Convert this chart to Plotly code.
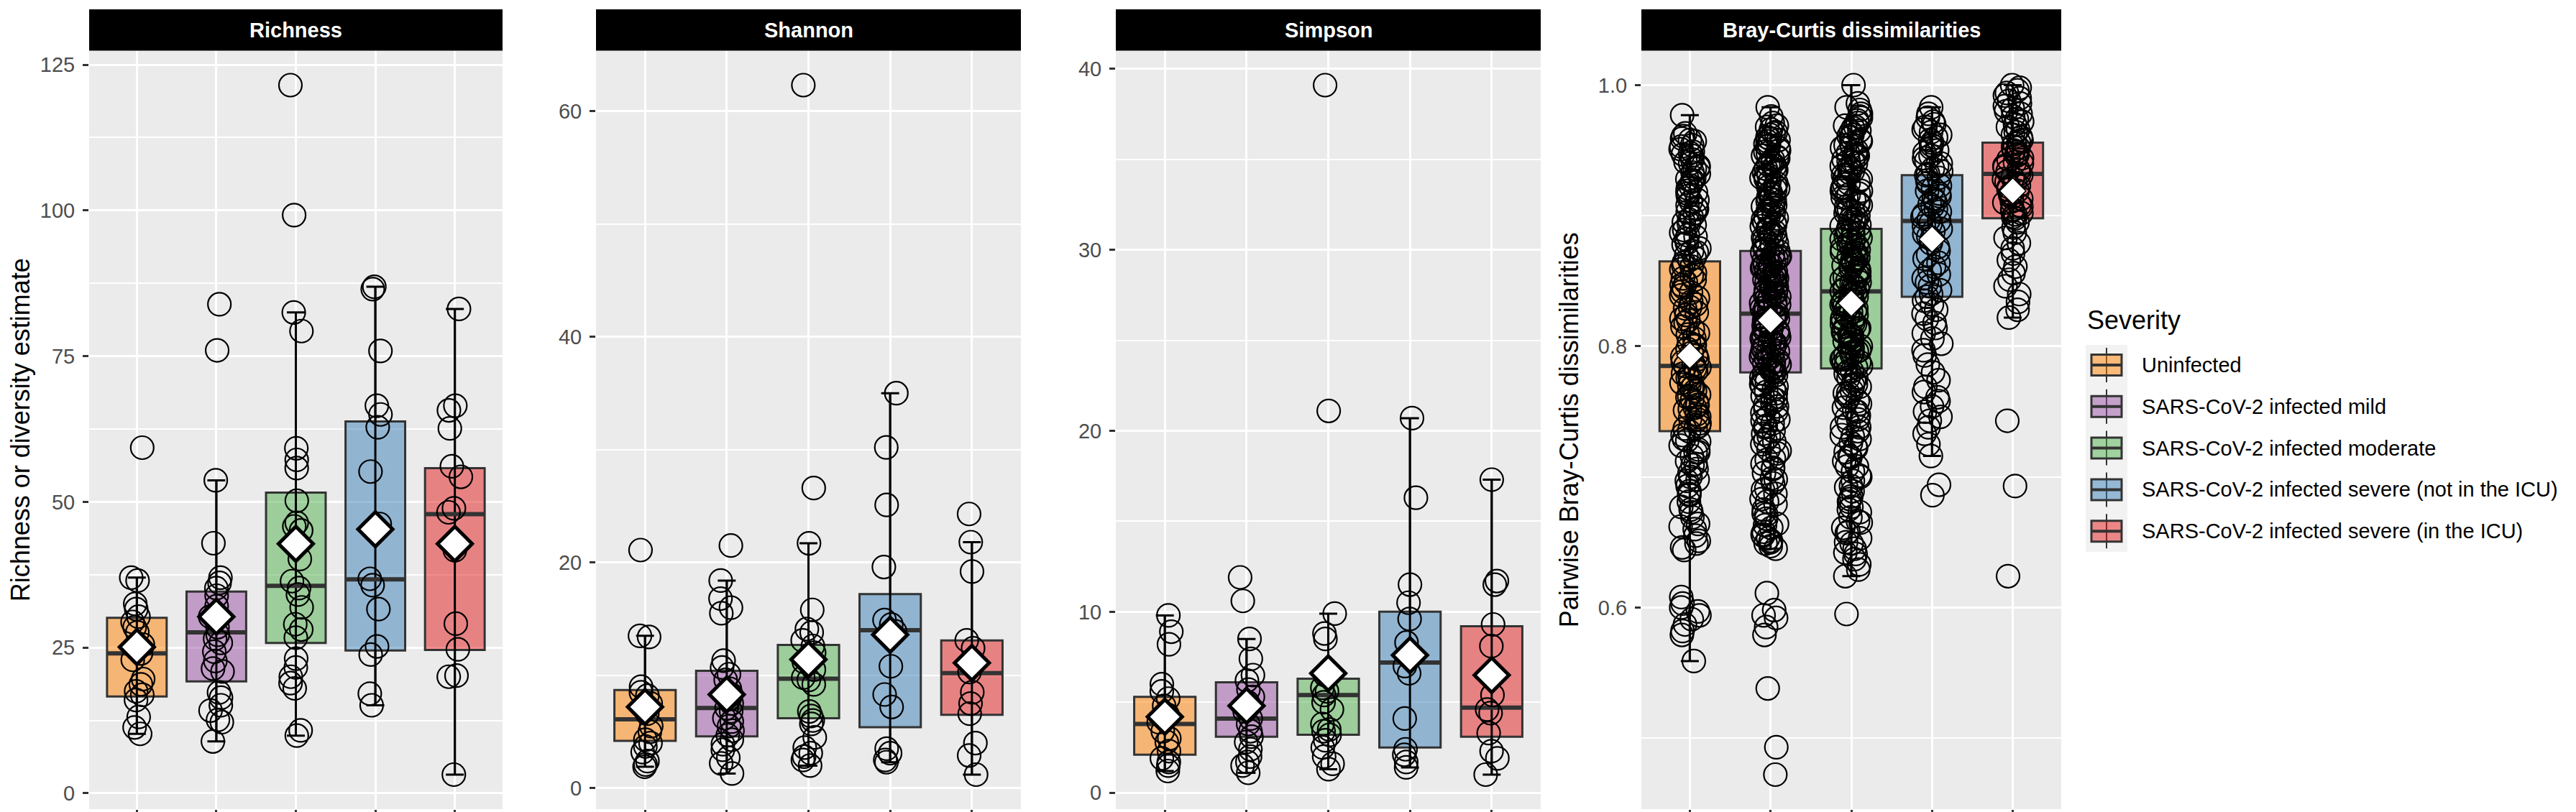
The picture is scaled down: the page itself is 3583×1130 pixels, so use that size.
import math
import plotly.graph_objects as go

W, H = 3583, 1130

severity = ["Uninfected", "SARS-CoV-2 infected mild", "SARS-CoV-2 infected moderate",
            "SARS-CoV-2 infected severe (not in the ICU)", "SARS-CoV-2 infected severe (in the ICU)"]
set1 = ["#FF7F00", "#984EA3", "#4DAF4A", "#377EB8", "#E41A1C"]

# ---------------- Richness ----------------
richness_points = [
    [59.3, 37.0, 36.5, 32.5, 31.6, 30.3, 29.4, 28.5, 27.6, 25.5, 24.0, 22.9, 19.6, 18.7, 17.5, 16.9, 16.0, 13.1, 11.3, 10.2],
    [83.9, 76.0, 53.7, 42.9, 37.0, 36.1, 35.2, 33.9, 32.1, 30.3, 28.5, 27.2, 26.5, 25.8, 24.3, 22.7, 21.4, 20.9, 17.3, 16.4, 15.1, 14.2, 12.6, 12.2, 8.9],
    [121.5, 99.2, 82.5, 79.3, 59.2, 57.2, 55.8, 50.2, 46.4, 45.8, 45.1, 40.2, 36.4, 35.2, 34.1, 31.9, 29.0, 28.1, 26.7, 23.1, 21.6, 20.0, 18.9, 18.0, 10.8, 9.9],
    [86.9, 86.5, 75.9, 66.5, 65.0, 62.8, 55.2, 46.2, 36.8, 35.7, 31.6, 25.2, 23.8, 17.1, 15.1],
    [83.1, 66.5, 65.7, 62.6, 56.1, 54.3, 48.9, 48.2, 41.7, 29.1, 24.7, 20.2, 20.0, 3.2],
]
richness_q1 = [16.6, 19.2, 25.8, 24.5, 24.6]
richness_median = [24.0, 27.6, 35.6, 36.7, 47.9]
richness_q3 = [30.1, 34.6, 51.6, 63.8, 55.8]
richness_lower = [10.2, 8.9, 9.9, 15.1, 3.2]
richness_upper = [37.0, 53.7, 82.5, 86.9, 83.1]
richness_mean = [25.1, 30.3, 42.8, 45.3, 42.8]

# ---------------- Shannon ----------------
shannon_points = [
    [21.1, 13.5, 13.4, 9.0, 8.5, 8.2, 7.5, 6.6, 5.5, 5.0, 4.3, 4.0, 3.7, 3.2, 2.4, 2.1, 1.9],
    [21.5, 18.4, 16.8, 16.0, 15.5, 11.3, 10.7, 10.1, 9.6, 8.8, 8.3, 7.9, 7.5, 7.1, 6.8, 6.2, 5.9, 5.5, 5.1, 4.7, 4.3, 3.9, 3.4, 2.7, 2.2, 1.3],
    [62.3, 26.6, 21.7, 15.8, 14.1, 13.8, 13.1, 12.6, 12.0, 11.2, 10.5, 9.8, 9.6, 9.2, 6.8, 6.4, 6.0, 5.7, 4.5, 3.6, 3.1, 2.8, 2.5, 2.0],
    [35.0, 30.2, 25.1, 19.6, 14.9, 14.5, 13.9, 10.8, 8.3, 7.2, 3.5, 3.1, 2.5, 2.3],
    [24.3, 21.8, 19.2, 13.1, 12.4, 10.3, 8.5, 7.5, 6.6, 4.0, 2.9, 1.2],
]
shannon_q1 = [4.2, 4.6, 6.2, 5.4, 6.5]
shannon_median = [6.1, 7.1, 9.7, 14.0, 10.2]
shannon_q3 = [8.7, 10.4, 12.7, 17.2, 13.1]
shannon_lower = [1.9, 1.3, 2.0, 2.3, 1.2]
shannon_upper = [13.5, 18.4, 21.7, 35.0, 21.8]
shannon_mean = [7.2, 8.3, 11.4, 13.6, 11.1]

# ---------------- Simpson ----------------
simpson_points = [
    [9.8, 8.9, 8.2, 6.0, 5.6, 5.2, 4.8, 4.3, 3.9, 3.4, 3.0, 2.8, 2.3, 1.9, 1.7, 1.5, 1.2],
    [11.9, 10.6, 8.5, 7.4, 6.5, 6.2, 5.7, 5.3, 5.0, 4.9, 4.5, 4.1, 3.8, 3.4, 3.1, 2.8, 2.4, 2.0, 1.7, 1.5, 1.1],
    [39.1, 21.1, 9.9, 8.8, 8.5, 6.5, 5.8, 5.6, 5.4, 5.0, 4.6, 3.8, 3.5, 3.4, 3.2, 2.9, 2.5, 2.0, 1.6, 1.3],
    [20.7, 16.3, 11.5, 10.5, 9.6, 8.3, 7.0, 6.6, 4.1, 2.4, 2.1, 1.7, 1.4],
    [17.3, 11.7, 11.5, 9.3, 8.1, 5.4, 4.6, 4.4, 3.3, 2.3, 1.9, 1.0],
]
simpson_q1 = [2.1, 3.1, 3.2, 2.5, 3.1]
simpson_median = [3.8, 4.1, 5.4, 7.2, 4.7]
simpson_q3 = [5.3, 6.1, 6.3, 10.0, 9.2]
simpson_lower = [1.2, 1.1, 1.3, 1.4, 1.0]
simpson_upper = [9.8, 8.5, 9.9, 20.7, 17.3]
simpson_mean = [4.2, 4.8, 6.6, 7.6, 6.5]

# ---------------- Bray-Curtis (pairwise values, estimated from the dense clouds) ----------------
bray_uninfected = [
    0.977, 0.963, 0.961, 0.958, 0.957, 0.954, 0.953, 0.951, 0.948, 0.947, 0.946, 0.943, 0.941, 0.940, 0.937,
    0.936, 0.933, 0.932, 0.929, 0.927, 0.926, 0.923, 0.921, 0.919, 0.918, 0.915, 0.912, 0.911, 0.908, 0.906,
    0.903, 0.902, 0.899, 0.897, 0.894, 0.893, 0.889, 0.887, 0.885, 0.882, 0.879, 0.878, 0.875, 0.872, 0.870,
    0.868, 0.866, 0.864, 0.861, 0.859, 0.856, 0.854, 0.852, 0.849, 0.847, 0.845, 0.842, 0.839, 0.837, 0.834,
    0.832, 0.829, 0.826, 0.824, 0.821, 0.818, 0.815, 0.813, 0.809, 0.806, 0.803, 0.801, 0.798, 0.795, 0.793,
    0.790, 0.788, 0.786, 0.785, 0.783, 0.781, 0.779, 0.776, 0.775, 0.772, 0.770, 0.768, 0.766, 0.763, 0.762,
    0.759, 0.757, 0.755, 0.752, 0.751, 0.748, 0.746, 0.744, 0.741, 0.739, 0.737, 0.735, 0.732, 0.729, 0.727,
    0.724, 0.721, 0.719, 0.716, 0.712, 0.710, 0.706, 0.703, 0.700, 0.697, 0.693, 0.689, 0.686, 0.681, 0.677,
    0.673, 0.669, 0.664, 0.660, 0.655, 0.651, 0.649, 0.646, 0.644, 0.608, 0.603, 0.600, 0.597, 0.594, 0.591,
    0.587, 0.582, 0.579, 0.559,
    0.959, 0.949, 0.938, 0.928, 0.917, 0.905, 0.895, 0.884, 0.873, 0.862, 0.851, 0.841, 0.830, 0.820, 0.810,
    0.800, 0.792, 0.784, 0.777, 0.769, 0.761, 0.753, 0.745, 0.737, 0.728, 0.719, 0.709, 0.698, 0.687, 0.675,
    0.662]
bray_mild = [
    0.983, 0.976, 0.971, 0.968, 0.966, 0.963, 0.962, 0.960, 0.958, 0.957, 0.955, 0.953, 0.952, 0.950, 0.949,
    0.946, 0.945, 0.944, 0.941, 0.940, 0.938, 0.936, 0.935, 0.933, 0.931, 0.930, 0.928, 0.926, 0.925, 0.922,
    0.921, 0.920, 0.917, 0.916, 0.914, 0.912, 0.911, 0.909, 0.907, 0.906, 0.904, 0.902, 0.901, 0.899, 0.897,
    0.895, 0.894, 0.892, 0.890, 0.889, 0.887, 0.885, 0.884, 0.882, 0.880, 0.879, 0.877, 0.875, 0.874, 0.872,
    0.871, 0.869, 0.868, 0.867, 0.865, 0.864, 0.863, 0.861, 0.860, 0.858, 0.857, 0.856, 0.854, 0.853, 0.852,
    0.850, 0.849, 0.848, 0.846, 0.845, 0.844, 0.842, 0.841, 0.840, 0.838, 0.837, 0.836, 0.834, 0.833, 0.832,
    0.830, 0.829, 0.828, 0.826, 0.825, 0.824, 0.822, 0.821, 0.820, 0.818, 0.817, 0.816, 0.814, 0.813, 0.812,
    0.810, 0.809, 0.808, 0.806, 0.805, 0.804, 0.802, 0.801, 0.800, 0.798, 0.797, 0.796, 0.794, 0.793, 0.792,
    0.790, 0.789, 0.788, 0.786, 0.785, 0.784, 0.782, 0.781, 0.780, 0.778, 0.776, 0.773, 0.771, 0.769, 0.767,
    0.764, 0.762, 0.759, 0.757, 0.754, 0.752, 0.749, 0.746, 0.743, 0.741, 0.738, 0.735, 0.731, 0.728, 0.725,
    0.721, 0.718, 0.714, 0.710, 0.707, 0.703, 0.699, 0.695, 0.691, 0.687, 0.683, 0.679, 0.675, 0.671, 0.668,
    0.664, 0.661, 0.658, 0.655, 0.653, 0.651, 0.649, 0.647, 0.645, 0.611, 0.598, 0.594, 0.592, 0.585, 0.579,
    0.538, 0.493, 0.472,
    0.969, 0.964, 0.959, 0.954, 0.948, 0.943, 0.939, 0.934, 0.929, 0.923, 0.918, 0.913, 0.908, 0.903, 0.898,
    0.893, 0.888, 0.883, 0.878, 0.873, 0.870, 0.866, 0.862, 0.859, 0.855, 0.851, 0.847, 0.843, 0.839, 0.835,
    0.831, 0.827, 0.823, 0.819, 0.815, 0.811, 0.807, 0.803, 0.799, 0.795, 0.791, 0.787, 0.783, 0.779, 0.775,
    0.770, 0.765, 0.760, 0.755, 0.750, 0.744, 0.739, 0.733, 0.727, 0.720, 0.713, 0.706, 0.698, 0.690, 0.681,
    0.672, 0.663, 0.656, 0.650]
bray_moderate = [
    1.000, 0.986, 0.981, 0.978, 0.975, 0.973, 0.971, 0.969, 0.967, 0.965, 0.964, 0.962, 0.960, 0.958, 0.957,
    0.955, 0.953, 0.952, 0.950, 0.948, 0.946, 0.945, 0.943, 0.941, 0.940, 0.938, 0.936, 0.934, 0.933, 0.931,
    0.929, 0.928, 0.926, 0.924, 0.922, 0.921, 0.919, 0.917, 0.916, 0.914, 0.912, 0.910, 0.909, 0.907, 0.905,
    0.904, 0.902, 0.900, 0.898, 0.897, 0.895, 0.893, 0.892, 0.890, 0.889, 0.887, 0.886, 0.884, 0.883, 0.881,
    0.880, 0.878, 0.877, 0.875, 0.874, 0.872, 0.871, 0.869, 0.868, 0.866, 0.865, 0.863, 0.862, 0.860, 0.859,
    0.857, 0.856, 0.854, 0.853, 0.851, 0.850, 0.848, 0.847, 0.845, 0.844, 0.842, 0.841, 0.839, 0.838, 0.836,
    0.835, 0.833, 0.832, 0.830, 0.829, 0.827, 0.826, 0.824, 0.823, 0.821, 0.820, 0.818, 0.817, 0.815, 0.814,
    0.812, 0.811, 0.809, 0.808, 0.806, 0.805, 0.803, 0.802, 0.800, 0.799, 0.797, 0.796, 0.794, 0.793, 0.791,
    0.790, 0.788, 0.787, 0.785, 0.784, 0.781, 0.779, 0.776, 0.774, 0.771, 0.769, 0.766, 0.764, 0.761, 0.758,
    0.756, 0.753, 0.750, 0.747, 0.744, 0.741, 0.738, 0.735, 0.732, 0.729, 0.726, 0.722, 0.719, 0.715, 0.712,
    0.708, 0.704, 0.701, 0.697, 0.693, 0.689, 0.685, 0.681, 0.677, 0.673, 0.669, 0.665, 0.661, 0.657, 0.653,
    0.649, 0.645, 0.641, 0.637, 0.633, 0.629, 0.624, 0.595,
    0.983, 0.976, 0.968, 0.961, 0.954, 0.947, 0.942, 0.937, 0.931, 0.925, 0.919, 0.914, 0.908, 0.903, 0.897,
    0.892, 0.887, 0.882, 0.877, 0.872, 0.867, 0.862, 0.858, 0.853, 0.849, 0.844, 0.840, 0.835, 0.831, 0.826,
    0.822, 0.817, 0.813, 0.808, 0.804, 0.799, 0.795, 0.790, 0.786, 0.781, 0.776, 0.770, 0.764, 0.758, 0.751,
    0.745, 0.738, 0.731, 0.723, 0.716, 0.708, 0.700, 0.692, 0.683, 0.675, 0.666, 0.658, 0.650, 0.642]
bray_severe = [
    0.983, 0.978, 0.975, 0.972, 0.970, 0.968, 0.966, 0.964, 0.962, 0.960, 0.958, 0.956, 0.954, 0.952, 0.950,
    0.948, 0.946, 0.944, 0.942, 0.940, 0.938, 0.936, 0.934, 0.932, 0.931, 0.929, 0.927, 0.925, 0.923, 0.921,
    0.919, 0.917, 0.915, 0.913, 0.911, 0.909, 0.907, 0.905, 0.903, 0.901, 0.899, 0.897, 0.896, 0.894, 0.892,
    0.890, 0.888, 0.886, 0.884, 0.882, 0.879, 0.876, 0.873, 0.870, 0.867, 0.864, 0.861, 0.858, 0.855, 0.852,
    0.849, 0.846, 0.843, 0.840, 0.838, 0.835, 0.832, 0.828, 0.825, 0.821, 0.818, 0.814, 0.810, 0.806, 0.802,
    0.797, 0.793, 0.786, 0.780, 0.774, 0.769, 0.765, 0.761, 0.758, 0.754, 0.750, 0.746, 0.743, 0.738, 0.733,
    0.725, 0.716, 0.694, 0.686]
bray_icu = [
    1.000, 0.998, 0.996, 0.994, 0.992, 0.990, 0.988, 0.986, 0.984, 0.982, 0.980, 0.978, 0.976, 0.974, 0.972,
    0.970, 0.968, 0.966, 0.964, 0.962, 0.960, 0.958, 0.956, 0.955, 0.953, 0.952, 0.950, 0.949, 0.947, 0.946,
    0.944, 0.943, 0.941, 0.940, 0.938, 0.937, 0.935, 0.934, 0.932, 0.931, 0.929, 0.928, 0.926, 0.925, 0.923,
    0.922, 0.920, 0.919, 0.917, 0.916, 0.914, 0.913, 0.911, 0.910, 0.908, 0.907, 0.905, 0.904, 0.902, 0.901,
    0.899, 0.898, 0.895, 0.891, 0.887, 0.883, 0.879, 0.875, 0.871, 0.866, 0.861, 0.856, 0.851, 0.846, 0.840,
    0.834, 0.828, 0.822, 0.743, 0.693, 0.624]
bray_points = [bray_uninfected, bray_mild, bray_moderate, bray_severe, bray_icu]
bray_q1 = [0.735, 0.780, 0.783, 0.838, 0.898]
bray_median = [0.785, 0.825, 0.842, 0.896, 0.932]
bray_q3 = [0.865, 0.873, 0.890, 0.931, 0.956]
bray_lower = [0.559, 0.645, 0.624, 0.716, 0.822]
bray_upper = [0.977, 0.983, 1.000, 0.983, 1.000]
bray_mean = [0.793, 0.820, 0.833, 0.882, 0.919]

panel_titles = ["Richness", "Shannon", "Simpson", "Bray-Curtis dissimilarities"]
y_titles = ["Richness or diversity estimate", "", "", "Pairwise Bray-Curtis dissimilarities"]

# ---------------- layout helpers ----------------
def px(x):
    return x / W

def py(y):
    return 1 - y / H

panel_px = [(116, 691), (821, 1412), (1544, 2135), (2275, 2859)]
plot_top, plot_bot = 62.5, 1118
strip_top = 5

panels = [
    dict(pts=richness_points, q1=richness_q1, med=richness_median, q3=richness_q3,
         lo=richness_lower, hi=richness_upper, mean=richness_mean, dtick=25, minor=12.5, fmt=None,
         dsize=37, dline=5, jit=0.08),
    dict(pts=shannon_points, q1=shannon_q1, med=shannon_median, q3=shannon_q3,
         lo=shannon_lower, hi=shannon_upper, mean=shannon_mean, dtick=20, minor=10, fmt=None,
         dsize=37, dline=5, jit=0.08),
    dict(pts=simpson_points, q1=simpson_q1, med=simpson_median, q3=simpson_q3,
         lo=simpson_lower, hi=simpson_upper, mean=simpson_mean, dtick=10, minor=5, fmt=None,
         dsize=37, dline=5, jit=0.08),
    dict(pts=bray_points, q1=bray_q1, med=bray_median, q3=bray_q3,
         lo=bray_lower, hi=bray_upper, mean=bray_mean, dtick=0.2, minor=0.1, fmt=".1f",
         dsize=28, dline=1.5, jit=0.12),
]

def rgba(hexc, a):
    h = hexc.lstrip("#")
    return "rgba(%d,%d,%d,%s)" % (int(h[0:2], 16), int(h[2:4], 16), int(h[4:6], 16), a)

def jitter(n, w, seed):
    # deterministic, hash-like horizontal jitter offsets (positions only)
    out = []
    for k in range(n):
        s = math.sin((k + 1) * 12.9898 + seed * 78.233) * 43758.5453
        out.append(w * (2 * (s - math.floor(s)) - 1))
    return out

FONT = "Liberation Sans, Arial, Helvetica, sans-serif"
BOXW = 0.75

fig = go.Figure()
layout_axes = {}
shapes = []
annotations = []

for p, cfg in enumerate(panels):
    xa = "x" if p == 0 else "x%d" % (p + 1)
    ya = "y" if p == 0 else "y%d" % (p + 1)
    for g in range(5):
        fig.add_trace(go.Box(
            x=[g + 1], q1=[cfg["q1"][g]], median=[cfg["med"][g]], q3=[cfg["q3"][g]],
            lowerfence=[cfg["lo"][g]], upperfence=[cfg["hi"][g]],
            width=BOXW, fillcolor=rgba(set1[g], 0.5),
            line=dict(color="#333333", width=3), whiskerwidth=0, boxpoints=False,
            name=severity[g], showlegend=False, hoverinfo="skip", xaxis=xa, yaxis=ya))
    xs = [g + 1 for g in range(5)]
    # error bars (whiskers with caps)
    fig.add_trace(go.Scatter(
        x=xs, y=cfg["med"], mode="markers",
        marker=dict(size=2, color="rgba(0,0,0,0)"),
        error_y=dict(type="data", symmetric=False,
                     array=[cfg["hi"][g] - cfg["med"][g] for g in range(5)],
                     arrayminus=[cfg["med"][g] - cfg["lo"][g] for g in range(5)],
                     width=12.5, thickness=3, color="black"),
        showlegend=False, hoverinfo="skip", xaxis=xa, yaxis=ya))
    # thick median segments
    mx, my = [], []
    for g in range(5):
        mx += [g + 1 - BOXW / 2, g + 1 + BOXW / 2, None]
        my += [cfg["med"][g], cfg["med"][g], None]
    fig.add_trace(go.Scatter(x=mx, y=my, mode="lines", line=dict(color="#333333", width=6),
                             showlegend=False, hoverinfo="skip", xaxis=xa, yaxis=ya))
    # jittered points
    jx, jy = [], []
    for g in range(5):
        vals = cfg["pts"][g]
        jit = jitter(len(vals), cfg["jit"], p * 5 + g)
        jx += [g + 1 + j for j in jit]
        jy += vals
    fig.add_trace(go.Scatter(
        x=jx, y=jy, mode="markers",
        marker=dict(symbol="circle-open", size=32, color="black", line=dict(width=2.2, color="black")),
        showlegend=False, hoverinfo="skip", xaxis=xa, yaxis=ya))
    # means
    fig.add_trace(go.Scatter(
        x=xs, y=cfg["mean"], mode="markers",
        marker=dict(symbol="diamond", size=cfg["dsize"], color="white",
                    line=dict(width=cfg["dline"], color="black")),
        showlegend=False, hoverinfo="skip", xaxis=xa, yaxis=ya))

    allv = [v for grp in cfg["pts"] for v in grp] + cfg["lo"] + cfg["hi"]
    vmin, vmax = min(allv), max(allv)
    pad = 0.05 * (vmax - vmin)
    x0, x1 = panel_px[p]
    layout_axes["xaxis" if p == 0 else "xaxis%d" % (p + 1)] = dict(
        domain=[px(x0), px(x1)], range=[0.4, 5.6], tickvals=xs, showticklabels=False,
        ticks="outside", ticklen=8, tickwidth=2.5, tickcolor="#333333",
        showgrid=True, gridcolor="white", gridwidth=3.2, zeroline=False, showline=False,
        anchor=ya, fixedrange=True)
    yax = dict(
        domain=[py(plot_bot), py(plot_top)], range=[vmin - pad, vmax + pad],
        tick0=0, dtick=cfg["dtick"], ticks="outside", ticklen=8, tickwidth=2.5, tickcolor="#333333",
        ticklabelstandoff=5,
        tickfont=dict(family=FONT, size=29, color="#4D4D4D"),
        showgrid=True, gridcolor="white", gridwidth=3.2, zeroline=False, showline=False,
        minor=dict(tick0=0, dtick=cfg["minor"], showgrid=True, gridcolor="white", gridwidth=1.8, ticks=""),
        anchor=xa, fixedrange=True)
    if cfg["fmt"]:
        yax["tickformat"] = cfg["fmt"]
    if y_titles[p]:
        yax["title"] = dict(text=y_titles[p], font=dict(family=FONT, size=36, color="black"), standoff=16)
    layout_axes["yaxis" if p == 0 else "yaxis%d" % (p + 1)] = yax

    # strip header
    shapes.append(dict(type="rect", xref="paper", yref="paper", x0=px(x0), x1=px(x1),
                       y0=py(plot_top), y1=py(strip_top), fillcolor="black", line=dict(width=0)))
    annotations.append(dict(xref="paper", yref="paper", x=px((x0 + x1) / 2), y=py((plot_top + strip_top) / 2),
                            text="<b>%s</b>" % panel_titles[p], showarrow=False,
                            font=dict(family=FONT, size=29, color="white"),
                            xanchor="center", yanchor="middle"))

# ---------------- legend (drawn as key glyphs + real text) ----------------
leg_x0, leg_x1 = 2893, 2951
leg_top, leg_bot = 472, 760
shapes.append(dict(type="rect", xref="paper", yref="paper", x0=px(leg_x0), x1=px(leg_x1),
                   y0=py(leg_bot), y1=py(leg_top), fillcolor="#F2F2F2", line=dict(width=0), layer="below"))
annotations.append(dict(xref="paper", yref="paper", x=px(leg_x0), y=py(437), text="Severity",
                        showarrow=False, xanchor="left", yanchor="middle",
                        font=dict(family=FONT, size=36, color="black")))
kx = (leg_x0 + leg_x1) / 2
for g in range(5):
    cy = 500 + 57.8 * g
    shapes.append(dict(type="line", xref="paper", yref="paper", x0=px(kx), x1=px(kx),
                       y0=py(cy + 24), y1=py(cy - 24), line=dict(color="#333333", width=2)))
    shapes.append(dict(type="rect", xref="paper", yref="paper", x0=px(kx - 21), x1=px(kx + 21),
                       y0=py(cy + 14.5), y1=py(cy - 14.5), fillcolor=rgba(set1[g], 0.5),
                       line=dict(color="#333333", width=3)))
    shapes.append(dict(type="line", xref="paper", yref="paper", x0=px(kx - 21), x1=px(kx + 21),
                       y0=py(cy), y1=py(cy), line=dict(color="#333333", width=4)))
    annotations.append(dict(xref="paper", yref="paper", x=px(2969), y=py(cy), text=severity[g],
                            showarrow=False, xanchor="left", yanchor="middle",
                            font=dict(family=FONT, size=29, color="black")))

fig.update_layout(
    width=W, height=H, margin=dict(l=0, r=0, t=0, b=0),
    paper_bgcolor="white", plot_bgcolor="#EBEBEB",
    boxmode="overlay", showlegend=False,
    font=dict(family=FONT, size=29, color="black"),
    shapes=shapes, annotations=annotations,
    **layout_axes)

fig.write_html("out.html")
